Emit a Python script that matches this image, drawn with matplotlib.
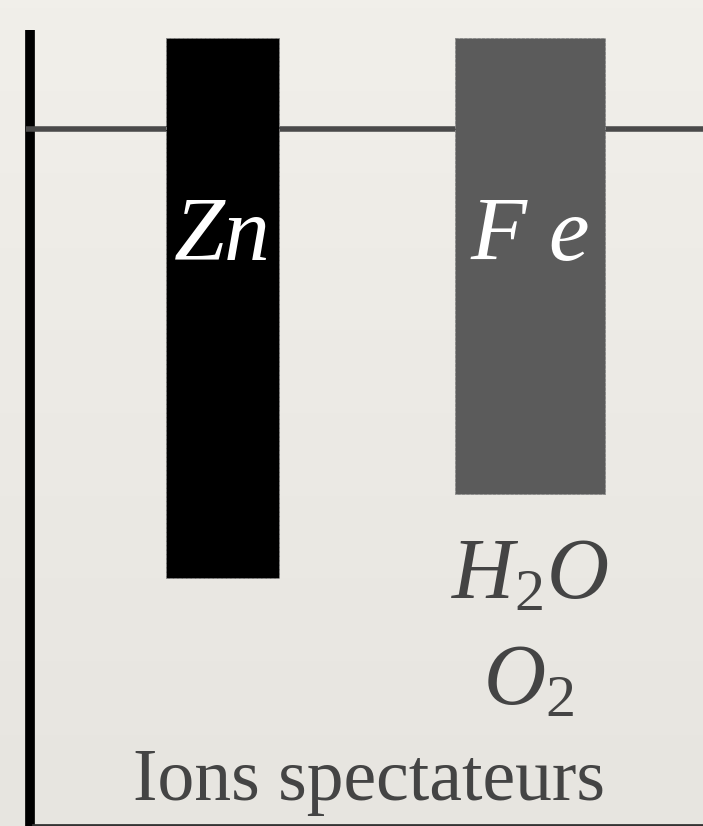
import numpy as np
import matplotlib.pyplot as plt
from matplotlib.colors import LinearSegmentedColormap

plt.rcParams['mathtext.fontset'] = 'custom'
plt.rcParams['mathtext.rm'] = 'Liberation Serif'
plt.rcParams['mathtext.it'] = 'Liberation Serif:italic'

# métaux plongés dans la solution (profondeur en pixels sous le haut)
metaux = ['Zn', 'F e']
profondeur = [540, 456]
centres = [222, 530]
largeurs = [113, 150]
couleurs = ['#000000', '#5b5b5b']

especes = [r'$H_2O$', r'$O_2$']
legende = 'Ions spectateurs'

fig = plt.figure(figsize=(7.03, 8.26), dpi=100)
fig.patch.set_facecolor('#eeece7')
ax = fig.add_axes([0, 0, 1, 1])
ax.set_xlim(0, 703)
ax.set_ylim(826, 0)
ax.axis('off')

# fond légèrement dégradé
fond = np.linspace(0, 1, 100).reshape(-1, 1)
ax.imshow(fond, extent=[0, 703, 826, 0], aspect='auto',
          cmap=LinearSegmentedColormap.from_list('f', ['#f1efea', '#e7e5e0']),
          zorder=0)

# bécher
ax.plot([29.5, 29.5], [30, 826], color='black', lw=7,
        solid_capstyle='butt', zorder=3)
ax.plot([33, 703], [824.5, 824.5], color='#333333', lw=2, zorder=3)
# surface de la solution
ax.plot([26, 166], [129, 129], color='#4a4a4a', lw=4,
        solid_capstyle='butt', zorder=4)
ax.plot([166, 703], [129, 129], color='#4a4a4a', lw=4,
        solid_capstyle='butt', zorder=1)

ax.bar(centres, profondeur, width=largeurs, bottom=38, color=couleurs,
       edgecolor='#888888', linewidth=0.6, linestyle='--', zorder=2)

for m, c in zip(metaux, centres):
    ax.text(c, 238, m, color='white', fontsize=66, style='italic',
            family='Liberation Serif', ha='center', va='center', zorder=4)

ax.text(530, 575, especes[0], color='#444444', fontsize=62,
        ha='center', va='center')
ax.text(528, 680, especes[1], color='#444444', fontsize=62,
        ha='center', va='center')
ax.text(369, 782, legende, color='#444444', fontsize=53,
        family='Liberation Serif', ha='center', va='center')

fig.savefig('out.png', dpi=100, facecolor=fig.get_facecolor())
